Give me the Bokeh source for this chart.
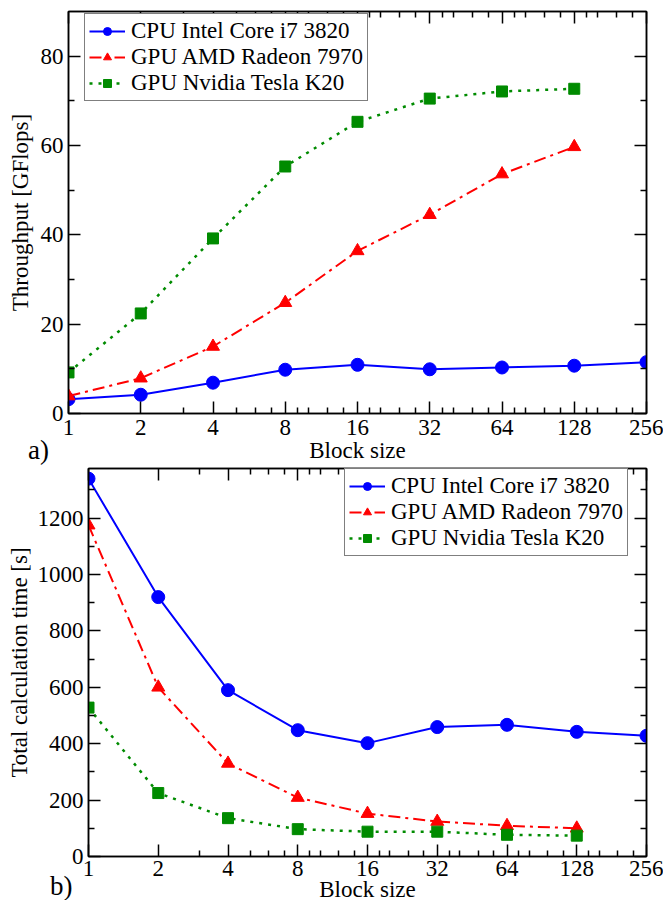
from bokeh.plotting import figure
from bokeh.models import (FixedTicker, Legend, LegendItem, LinearAxis, LogAxis, Div,
                          CustomJSTickFormatter, Range1d)
from bokeh.embed import file_html
from bokeh.resources import INLINE

# ---------------- data ----------------
block_sizes = [1, 2, 4, 8, 16, 32, 64, 128, 256]
gpu_block_sizes = [1, 2, 4, 8, 16, 32, 64, 128]
series_names = ["CPU Intel Core i7 3820", "GPU AMD Radeon 7970", "GPU Nvidia Tesla K20"]

throughput_cpu = [3.2, 4.2, 6.9, 9.8, 10.9, 9.9, 10.3, 10.7, 11.5]
throughput_amd = [3.9, 7.9, 15.0, 24.8, 36.4, 44.5, 53.6, 59.7]
throughput_nvidia = [9.2, 22.4, 39.2, 55.3, 65.3, 70.5, 72.1, 72.7]

time_cpu = [1340, 920, 590, 448, 402, 459, 467, 442, 428]
time_amd = [1175, 600, 330, 209, 152, 124, 109, 100]
time_nvidia = [528, 225, 136, 97, 88, 88, 77, 74]

x_major_ticks = [1, 2, 4, 8, 16, 32, 64, 128, 256]
x_minor_ticks = [3, 5, 6, 7, 9, 10, 12, 14, 18, 20, 24, 28, 36, 40, 48, 56,
                 72, 80, 96, 112, 144, 160, 192, 224]
x_tick_labels = ["1", "2", "4", "8", "16", "32", "64", "128", "256"]

top_y_major = [0, 20, 40, 60, 80]
top_y_minor = [10, 30, 50, 70]
bot_y_major = [0, 200, 400, 600, 800, 1000, 1200]
bot_y_minor = [100, 300, 500, 700, 900, 1100, 1300]

FONT = "Liberation Serif"
BLUE, RED, GREEN = "#0000ff", "#ff0000", "#008b00"


def style_axis(ax, labels=True):
    ax.axis_line_color = "black"
    ax.axis_line_width = 1.5
    ax.major_tick_line_color = "black"
    ax.minor_tick_line_color = "black"
    ax.major_tick_line_width = 1.5
    ax.minor_tick_line_width = 1.5
    ax.major_tick_in = 12
    ax.major_tick_out = 0
    ax.minor_tick_in = 6
    ax.minor_tick_out = 0
    if labels:
        ax.major_label_text_font = FONT
        ax.major_label_text_font_size = "23px"
        ax.major_label_text_color = "black"
        ax.axis_label_text_font = FONT
        ax.axis_label_text_font_size = "23px"
        ax.axis_label_text_font_style = "normal"
        ax.axis_label_text_color = "black"
    else:
        ax.formatter = CustomJSTickFormatter(code="return ''")
        ax.major_label_standoff = 0


def make_fig(frame_w, frame_h, ymax, ymaj, ymin, ylabel, cpu, amd, nv,
             legend_loc, min_left, min_top, ylab_standoff, xlab_standoffs):
    p = figure(x_axis_type="log", x_range=Range1d(1, 256), y_range=Range1d(0, ymax),
               frame_width=frame_w, frame_height=frame_h,
               output_backend="svg", toolbar_location=None,
               min_border_left=min_left, min_border_right=17, min_border_top=min_top,
               min_border_bottom=0)
    p.grid.visible = False
    p.outline_line_color = "black"
    p.outline_line_width = 1.5
    p.background_fill_color = "white"
    p.border_fill_color = "white"

    xa = p.xaxis[0]
    xa.ticker = FixedTicker(ticks=x_major_ticks, minor_ticks=x_minor_ticks)
    xa.major_label_overrides = {float(t): s for t, s in zip(x_major_ticks, x_tick_labels)}
    xa.axis_label = "Block size"
    style_axis(xa)
    xa.major_label_standoff = xlab_standoffs[0]
    xa.axis_label_standoff = xlab_standoffs[1]

    ya = p.yaxis[0]
    ya.ticker = FixedTicker(ticks=ymaj, minor_ticks=ymin)
    ya.axis_label = ylabel
    style_axis(ya)
    ya.major_label_standoff = 5
    ya.axis_label_standoff = ylab_standoff

    top_ax = LogAxis(ticker=FixedTicker(ticks=x_major_ticks, minor_ticks=x_minor_ticks))
    style_axis(top_ax, labels=False)
    p.add_layout(top_ax, "above")
    right_ax = LinearAxis(ticker=FixedTicker(ticks=ymaj, minor_ticks=ymin))
    style_axis(right_ax, labels=False)
    p.add_layout(right_ax, "right")

    gx = gpu_block_sizes
    l1 = p.line(block_sizes, cpu, line_color=BLUE, line_width=2)
    s1 = p.scatter(block_sizes, cpu, marker="circle", size=13, fill_color=BLUE, line_color=BLUE)
    l2 = p.line(gx, amd, line_color=RED, line_width=2, line_dash="12 5 3 5")
    s2 = p.scatter(gx, amd, marker="triangle", size=13, fill_color=RED, line_color=RED)
    l3 = p.line(gx, nv, line_color=GREEN, line_width=2.5, line_dash="3 6")
    s3 = p.scatter(gx, nv, marker="square", size=11, fill_color=GREEN, line_color=GREEN)

    items = [LegendItem(label=series_names[0], renderers=[l1, s1]),
             LegendItem(label=series_names[1], renderers=[l2, s2]),
             LegendItem(label=series_names[2], renderers=[l3, s3])]
    leg = Legend(items=items, location=legend_loc)
    leg.label_text_font = FONT
    leg.label_text_font_size = "23px"
    leg.label_text_color = "black"
    leg.border_line_color = "black"
    leg.border_line_width = 1.5
    leg.background_fill_color = "white"
    leg.background_fill_alpha = 1
    leg.padding = 4
    leg.spacing = 0
    leg.margin = 0
    leg.glyph_width = 36
    leg.glyph_height = 20
    leg.label_height = 20
    leg.label_standoff = 6
    p.add_layout(leg, "center")
    return p


def tag_div(text, left, top):
    return Div(text=text, width=40, height=30, margin=(top, 0, 0, left),
               styles={"font-family": FONT, "font-size": "27px", "line-height": "30px",
                       "color": "black"})


p1 = make_fig(578, 402, 90, top_y_major, top_y_minor, "Throughput [GFlops]",
              throughput_cpu, throughput_amd, throughput_nvidia,
              (16, 312), 68, 11, 5, (6, 0))
p2 = make_fig(558, 388, 1376, bot_y_major, bot_y_minor, "Total calculation time [s]",
              time_cpu, time_amd, time_nvidia,
              (256, 300), 88, 3, 3, (4, -2))

roots = [p1, tag_div("a)", 28, -30), p2, tag_div("b)", 50, -33)]
open("out.html", "w").write(file_html(roots, INLINE))
